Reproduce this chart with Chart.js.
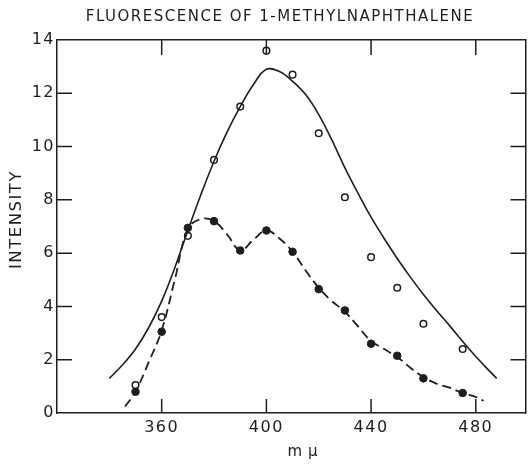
<!DOCTYPE html>
<html>
<head>
<meta charset="utf-8">
<script src="https://cdn.jsdelivr.net/npm/chart.js@4/dist/chart.umd.min.js"></script>
<style>
  html, body { margin: 0; padding: 0; background: #fff; }
  #wrap { width: 531px; height: 466px; }
</style>
</head>
<body>
<div id="wrap"><canvas id="fluorChart"></canvas></div>
<script>
// Measured points (wavelength in m mu)
const wavePoints = [350, 360, 370, 380, 390, 400, 410, 420, 430, 440, 450, 460, 475];
const openValues = [1.05, 3.6, 6.65, 9.5, 11.5, 13.6, 12.7, 10.5, 8.1, 5.85, 4.7, 3.35, 2.4];
const filledValues = [0.8, 3.05, 6.95, 7.2, 6.1, 6.85, 6.05, 4.65, 3.85, 2.6, 2.15, 1.3, 0.75];

// Solid curve
const solidWave = [340, 345, 350, 355, 360, 365, 370, 375, 380, 385, 390, 395, 400, 405, 410, 415, 420, 425, 430, 435, 440, 445, 450, 455, 460, 465, 470, 475, 480, 485, 488];
const solidValues = [1.3, 1.8, 2.4, 3.2, 4.2, 5.45, 6.85, 8.2, 9.45, 10.55, 11.5, 12.32, 12.9, 12.82, 12.45, 11.95, 11.2, 10.25, 9.2, 8.25, 7.35, 6.55, 5.8, 5.1, 4.45, 3.85, 3.28, 2.68, 2.12, 1.6, 1.3];

// Dashed curve
const dashWave = [346, 350, 355, 360, 365, 370, 375, 380, 385, 390, 395, 400, 405, 410, 415, 420, 425, 430, 435, 440, 445, 450, 455, 460, 465, 470, 475, 480, 483];
const dashValues = [0.24, 0.8, 1.9, 3.1, 5.0, 6.9, 7.28, 7.2, 6.7, 6.1, 6.5, 6.85, 6.55, 6.05, 5.35, 4.7, 4.2, 3.8, 3.25, 2.7, 2.4, 2.1, 1.7, 1.35, 1.1, 0.95, 0.75, 0.6, 0.46];

// Tick labels
const xTicks = [360, 400, 440, 480];
const yTicks = [0, 2, 4, 6, 8, 10, 12, 14];

const ink = '#1e1e1e';
const fontFamily = "'DejaVu Sans', sans-serif";

function toXY(xs, ys) {
    return xs.map((x, i) => ({ x: x, y: ys[i] }));
}

// Frame ticks pointing inward, axis titles, lettering spacing
const frameDecor = {
    id: 'frameDecor',
    afterLayout(chart) {
        // the printed title sits a bit right of the page centre
        chart.titleBlock.left += 30;
    },
    beforeDraw(chart) {
        chart.ctx.letterSpacing = '1.5px';
    },
    afterDraw(chart) {
        const { ctx, chartArea: a, scales } = chart;
        ctx.save();
        ctx.strokeStyle = ink;
        ctx.lineWidth = 1.5;
        ctx.beginPath();
        xTicks.forEach(v => {
            const px = scales.x.getPixelForValue(v);
            ctx.moveTo(px, a.bottom);
            ctx.lineTo(px, a.bottom - 14);
            ctx.moveTo(px, a.top);
            ctx.lineTo(px, a.top + 15);
        });
        yTicks.slice(1, -1).forEach(v => {
            const py = scales.y.getPixelForValue(v);
            ctx.moveTo(a.left, py);
            ctx.lineTo(a.left + 15, py);
            ctx.moveTo(a.right, py);
            ctx.lineTo(a.right - 15, py);
        });
        ctx.stroke();

        // axis titles
        ctx.fillStyle = ink;
        ctx.textAlign = 'center';
        ctx.textBaseline = 'middle';
        ctx.font = '15px ' + fontFamily;
        ctx.fillText('m\u2009μ', (a.left + a.right) / 2 + 12, 452);
        ctx.translate(17, (a.top + a.bottom) / 2 - 7);
        ctx.rotate(-Math.PI / 2);
        ctx.font = '16.5px ' + fontFamily;
        ctx.fillText('INTENSITY', 0, 0);
        ctx.restore();
    }
};

const ctx = document.getElementById('fluorChart').getContext('2d');
new Chart(ctx, {
    type: 'line',
    data: {
        datasets: [
            {
                data: toXY(solidWave, solidValues),
                borderColor: ink,
                borderWidth: 1.6,
                pointRadius: 0,
                tension: 0.4,
                fill: false
            },
            {
                data: toXY(dashWave, dashValues),
                borderColor: ink,
                borderWidth: 1.8,
                borderDash: [9, 5],
                pointRadius: 0,
                tension: 0.4,
                fill: false
            },
            {
                data: toXY(wavePoints, openValues),
                showLine: false,
                pointRadius: 3.3,
                pointBorderWidth: 1.5,
                pointBorderColor: ink,
                pointBackgroundColor: '#fff'
            },
            {
                data: toXY(wavePoints, filledValues),
                showLine: false,
                pointRadius: 3.8,
                pointBorderWidth: 1,
                pointBorderColor: ink,
                pointBackgroundColor: ink
            }
        ]
    },
    options: {
        responsive: true,
        maintainAspectRatio: false,
        animation: false,
        devicePixelRatio: 1,
        layout: { padding: { left: 0, right: 1, top: 0, bottom: 0 } },
        plugins: {
            legend: { display: false },
            tooltip: { enabled: false },
            title: {
                display: true,
                text: 'FLUORESCENCE OF 1-METHYLNAPHTHALENE',
                color: ink,
                font: { family: fontFamily, size: 15, weight: 'normal' },
                padding: { top: 8, bottom: 14 }
            }
        },
        scales: {
            x: {
                type: 'linear',
                position: 'bottom',
                min: 320,
                max: 499,
                afterBuildTicks: s => { s.ticks = xTicks.map(v => ({ value: v })); },
                afterFit: s => { s.height = 53; },
                grid: { display: false, drawTicks: false },
                border: { display: true, color: ink, width: 1.5 },
                ticks: {
                    color: ink,
                    font: { family: fontFamily, size: 16 },
                    padding: 5,
                    maxRotation: 0
                }
            },
            x2: {
                type: 'linear',
                position: 'top',
                min: 320,
                max: 499,
                afterFit: s => { s.height = 0; },
                grid: { display: false, drawTicks: false },
                border: { display: true, color: ink, width: 1.5 },
                ticks: { display: false }
            },
            y: {
                min: 0,
                max: 14,
                afterBuildTicks: s => { s.ticks = yTicks.map(v => ({ value: v })); },
                afterFit: s => { s.width = 57; },
                grid: { display: false, drawTicks: false },
                border: { display: true, color: ink, width: 1.5 },
                ticks: {
                    color: ink,
                    font: { family: fontFamily, size: 16 },
                    padding: 2
                }
            },
            y2: {
                position: 'right',
                min: 0,
                max: 14,
                afterFit: s => { s.width = 0; },
                grid: { display: false, drawTicks: false },
                border: { display: true, color: ink, width: 1.5 },
                ticks: { display: false }
            }
        }
    },
    plugins: [frameDecor]
});
</script>
</body>
</html>
